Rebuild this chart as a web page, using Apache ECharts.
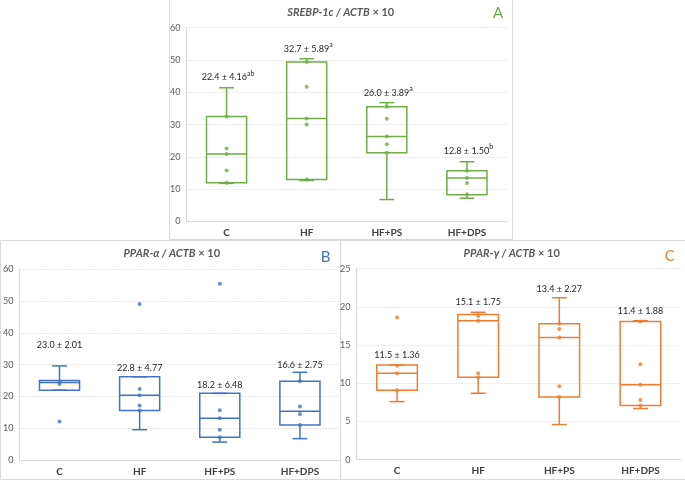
<!DOCTYPE html>
<html>
<head>
<meta charset="utf-8">
<script src="https://cdn.jsdelivr.net/npm/echarts@6/dist/echarts.min.js"></script>
<style>html,body{margin:0;padding:0;background:#fff}#c{width:685px;height:481px}</style>
</head>
<body>
<div id="c"></div>
<script>
// ---------- DATA ----------
const categories = ['C', 'HF', 'HF+PS', 'HF+DPS'];

// Panel A: SREBP-1c / ACTB x 10
const A_min = [11.8, 12.7, 6.8, 7.2];
const A_q1  = [12.0, 13.0, 21.3, 8.3];
const A_med = [20.9, 31.9, 26.3, 13.5];
const A_q3  = [32.5, 49.4, 35.5, 15.7];
const A_max = [41.4, 50.4, 36.8, 18.5];
const A_points = [
  [32.5, 22.6, 20.9, 15.8, 12.0],
  [49.4, 41.7, 31.9, 30.0, 13.0],
  [35.5, 31.8, 26.3, 23.9, 21.3],
  [15.7, 13.5, 11.9, 8.4]
];
const A_labels = ['22.4 ± 4.16', '32.7 ± 5.89', '26.0 ± 3.89', '12.8 ± 1.50'];
const A_sup = ['ab', 'a', 'a', 'b'];

// Panel B: PPAR-α / ACTB x 10
const B_min = [22.0, 9.6, 5.7, 6.8];
const B_q1  = [22.0, 15.6, 7.2, 11.1];
const B_med = [24.4, 20.4, 13.2, 15.4];
const B_q3  = [25.0, 26.2, 21.0, 24.8];
const B_max = [29.6, 26.2, 21.0, 27.6];
const B_points = [
  [24.6, 23.9, 12.2],
  [49.0, 22.4, 20.4, 17.2, 15.6],
  [55.4, 15.7, 13.2, 9.6, 7.2],
  [24.8, 16.9, 14.5, 11.1]
];
const B_labels = ['23.0 ± 2.01', '22.8 ± 4.77', '18.2 ± 6.48', '16.6 ± 2.75'];
const B_sup = ['', '', '', ''];

// Panel C: PPAR-γ / ACTB x 10
const C_min = [7.6, 8.7, 4.6, 6.7];
const C_q1  = [9.1, 10.8, 8.2, 7.1];
const C_med = [11.3, 18.2, 16.0, 9.8];
const C_q3  = [12.4, 19.0, 17.8, 18.1];
const C_max = [12.4, 19.3, 21.2, 18.2];
const C_points = [
  [18.6, 12.3, 11.3, 9.1],
  [18.8, 18.2, 11.3, 10.8],
  [17.8, 17.1, 16.0, 9.6, 8.2],
  [18.1, 12.5, 9.8, 7.8, 7.1]
];
const C_labels = ['11.5 ± 1.36', '15.1 ± 1.75', '13.4 ± 2.27', '11.4 ± 1.88'];
const C_sup = ['', '', '', ''];

// ---------- STYLE ----------
const FONT = 'Lato, "Open Sans", sans-serif';
const panels = [
  { min: A_min, q1: A_q1, med: A_med, q3: A_q3, max: A_max, pts: A_points, lab: A_labels, sup: A_sup,
    color: '#70AD47', ymax: 60, interval: 10, lift: [12, 11, 11, 12],
    grid: { left: 186.5, top: 27.7, width: 320.5, height: 193.8 } },
  { min: B_min, q1: B_q1, med: B_med, q3: B_q3, max: B_max, pts: B_points, lab: B_labels, sup: B_sup,
    color: '#4472C4', ymax: 60, interval: 10, lift: [22, 10, 10, 9],
    grid: { left: 16.5, top: 269, width: 323.5, height: 191.3 } },
  { min: C_min, q1: C_q1, med: C_med, q3: C_q3, max: C_max, pts: C_points, lab: C_labels, sup: C_sup,
    color: '#ED7D31', ymax: 25, interval: 5, lift: [11, 12, 10, 11],
    grid: { left: 356.5, top: 268.7, width: 324.5, height: 191 } }
];

const grids = [], xAxes = [], yAxes = [], series = [];
panels.forEach((p, i) => {
  grids.push(Object.assign({ containLabel: false }, p.grid));
  xAxes.push({
    type: 'category', gridIndex: i, data: categories,
    axisLine: { lineStyle: { color: '#d9d9d9', width: 1 } },
    axisTick: { show: false },
    axisLabel: { color: '#404040', fontFamily: FONT, fontWeight: 'bold', fontSize: 10, margin: 6 },
    splitLine: { show: false }
  });
  yAxes.push({
    type: 'value', gridIndex: i, min: 0, max: p.ymax, interval: p.interval,
    axisLine: { show: true, lineStyle: { color: '#d9d9d9', width: 1 } },
    axisTick: { show: false },
    axisLabel: { color: '#595959', fontFamily: FONT, fontSize: 9, margin: 6 },
    splitLine: { lineStyle: { color: '#e6e6e6', width: 1, type: [2, 1] } }
  });
  // boxes
  series.push({
    type: 'custom', xAxisIndex: i, yAxisIndex: i,
    data: categories.map((c, k) => [k, p.min[k], p.q1[k], p.med[k], p.q3[k], p.max[k]]),
    encode: { x: 0, y: [1, 2, 3, 4, 5] },
    renderItem: function (params, api) {
      const k = api.value(0);
      const bw = api.size([1, 0])[0] * 0.5;
      const cw = bw * 0.37;
      const pMin = api.coord([k, api.value(1)]);
      const pQ1 = api.coord([k, api.value(2)]);
      const pMed = api.coord([k, api.value(3)]);
      const pQ3 = api.coord([k, api.value(4)]);
      const pMax = api.coord([k, api.value(5)]);
      const cx = pMin[0];
      const st = { stroke: p.color, lineWidth: 1.5, fill: 'none' };
      return {
        type: 'group',
        children: [
          { type: 'line', shape: { x1: cx, y1: pQ3[1], x2: cx, y2: pMax[1] }, style: st },
          { type: 'line', shape: { x1: cx, y1: pQ1[1], x2: cx, y2: pMin[1] }, style: st },
          { type: 'line', shape: { x1: cx - cw / 2, y1: pMax[1], x2: cx + cw / 2, y2: pMax[1] }, style: st },
          { type: 'line', shape: { x1: cx - cw / 2, y1: pMin[1], x2: cx + cw / 2, y2: pMin[1] }, style: st },
          { type: 'rect', shape: { x: cx - bw / 2, y: pQ3[1], width: bw, height: pQ1[1] - pQ3[1] }, style: { stroke: p.color, lineWidth: 1.5, fill: 'rgba(255,255,255,0)' } },
          { type: 'line', shape: { x1: cx - bw / 2, y1: pMed[1], x2: cx + bw / 2, y2: pMed[1] }, style: st }
        ]
      };
    },
    z: 2
  });
  // points
  const pd = [];
  p.pts.forEach((arr, k) => arr.forEach(v => pd.push([k, v])));
  series.push({
    type: 'scatter', xAxisIndex: i, yAxisIndex: i, data: pd,
    symbolSize: 4, itemStyle: { color: p.color }, z: 3
  });
  // labels
  series.push({
    type: 'custom', xAxisIndex: i, yAxisIndex: i,
    data: categories.map((c, k) => [k, p.max[k]]),
    renderItem: function (params, api) {
      const k = params.dataIndex;
      const pt = api.coord([api.value(0), api.value(1)]);
      const s = p.sup[k];
      const txt = '{m|' + p.lab[k] + '}' + (s ? '{s|' + s + '}' : '');
      return {
        type: 'text',
        x: pt[0] + (s ? 1.5 : 0), y: pt[1] - p.lift[k],
        style: {
          text: txt, align: 'center', verticalAlign: 'middle',
          fill: '#262626', font: '9px ' + FONT,
          rich: {
            m: { fontSize: 9, fontFamily: FONT, fill: '#262626', color: '#262626', lineHeight: 12, verticalAlign: 'bottom' },
            s: { fontSize: 7, fontFamily: FONT, fill: '#262626', color: '#262626', lineHeight: 12, verticalAlign: 'top', padding: [0, 0, 3, 0] }
          }
        }
      };
    },
    z: 4
  });
});

function titleText(x, y, gene) {
  return {
    type: 'text', x: x, y: y,
    style: {
      text: '{i|' + gene + ' / ACTB}{n| × 10}', align: 'center', verticalAlign: 'middle',
      rich: {
        i: { fontFamily: FONT, fontStyle: 'italic', fontWeight: 'bold', fontSize: 11, fill: '#595959', color: '#595959' },
        n: { fontFamily: FONT, fontWeight: 'bold', fontSize: 11, fill: '#595959', color: '#595959' }
      }
    }
  };
}
function letter(x, y, t, c) {
  return { type: 'text', x: x, y: y, style: { text: t, align: 'center', verticalAlign: 'middle', font: '15px ' + FONT, fill: c } };
}
const frame = { stroke: '#d9d9d9', lineWidth: 1, fill: 'none' };
const graphics = [
  { type: 'rect', shape: { x: 169.5, y: -1, width: 343, height: 240.5 }, style: frame, z: -1 },
  { type: 'rect', shape: { x: 0.5, y: 240.5, width: 340, height: 239 }, style: frame, z: -1 },
  { type: 'rect', shape: { x: 340.5, y: 240.5, width: 350, height: 239 }, style: frame, z: -1 },
  titleText(340.7, 12, 'SREBP-1c'),
  titleText(171.7, 253, 'PPAR-α'),
  titleText(511.7, 253, 'PPAR-γ'),
  letter(498, 13.5, 'A', '#70AD47'),
  letter(325.5, 257.5, 'B', '#4472C4'),
  letter(669.7, 256, 'C', '#ED7D31')
];

const chart = echarts.init(document.getElementById('c'), null, { renderer: 'canvas' });
chart.setOption({
  animation: false,
  backgroundColor: '#fff',
  grid: grids, xAxis: xAxes, yAxis: yAxes, series: series,
  graphic: graphics
});
</script>
</body>
</html>
